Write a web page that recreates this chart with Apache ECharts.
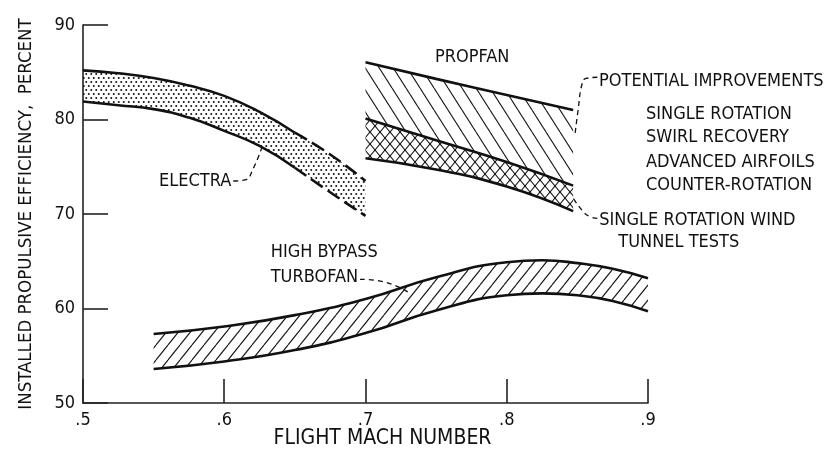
<!DOCTYPE html>
<html><head><meta charset="utf-8">
<script src="https://cdn.jsdelivr.net/npm/echarts@6/dist/echarts.min.js"></script>
<style>html,body{margin:0;padding:0;background:#fff}#c{width:836px;height:465px}</style>
</head><body><div id="c"></div>
<script>
// ---------- data ----------
const machTicks = [0.5, 0.6, 0.7, 0.8, 0.9];
const effTicks = [50, 60, 70, 80, 90];

const electraMach  = [0.5, 0.525, 0.55, 0.575, 0.6, 0.625, 0.65, 0.675, 0.7];
const electraUpper = [85.2, 84.9, 84.4, 83.6, 82.5, 80.8, 78.6, 76.3, 73.5];
const electraLower = [81.9, 81.5, 81.1, 80.2, 78.8, 77.2, 74.9, 72.3, 69.8];
const electraDashFrom = 0.65;

const propfanMach   = [0.7, 0.75, 0.8, 0.847];
const propfanUpper  = [86.05, 84.3, 82.6, 81.0];
const propfanMiddle = [80.1, 77.8, 75.5, 73.0];
const propfanLower  = [75.9, 74.7, 72.9, 70.3];

const turbofanMach  = [0.55, 0.6, 0.65, 0.7, 0.75, 0.8, 0.825, 0.85, 0.875, 0.9];
const turbofanUpper = [57.3, 58.1, 59.3, 61.0, 63.3, 64.9, 65.1, 64.8, 64.2, 63.2];
const turbofanLower = [53.6, 54.4, 55.6, 57.4, 59.8, 61.4, 61.6, 61.4, 60.8, 59.7];

const noteTexts = ['ELECTRA', 'PROPFAN', 'POTENTIAL IMPROVEMENTS', 'SINGLE ROTATION',
  'SWIRL RECOVERY', 'ADVANCED AIRFOILS', 'COUNTER-ROTATION', 'SINGLE ROTATION WIND',
  'TUNNEL TESTS', 'HIGH BYPASS', 'TURBOFAN'];
const noteMach = [0.5538, 0.7492, 0.8653, 0.8986, 0.8986, 0.8986, 0.8986, 0.8655, 0.879, 0.6329, 0.6329];
const noteEff  = [73.5, 86.56, 84.05, 80.56, 78.1, 75.52, 73.02, 69.37, 66.98, 65.93, 63.28];

const electraLeader   = [[0.6064, 73.49], [0.6147, 73.6], [0.6206, 74.84], [0.6272, 77.3]];
const potentialLeader = [[0.8641, 84.47], [0.8561, 84.34], [0.8533, 83.76], [0.8505, 81.0], [0.8483, 78.36]];
const windLeader      = [[0.8641, 69.54], [0.8589, 69.72], [0.8542, 70.24], [0.8471, 71.66]];
const turbofanLeader  = [[0.6961, 63.09], [0.7126, 62.84], [0.7315, 61.61]];

// ---------- styles ----------
const FONT = "'DejaVu Sans Condensed', 'Liberation Sans Narrow', 'DejaVu Sans', sans-serif";
const INK = '#111';
const EDGE = 2.6;

function hatchTile(w, h, dirs, lw) {
  const c = document.createElement('canvas');
  c.width = w; c.height = h;
  const g = c.getContext('2d');
  g.strokeStyle = INK; g.lineWidth = lw;
  dirs.forEach(d => {
    for (let k = -1; k <= 1; k++) {
      g.beginPath();
      if (d > 0) { g.moveTo(k * w, h); g.lineTo(k * w + w, 0); }
      else { g.moveTo(k * w, 0); g.lineTo(k * w + w, h); }
      g.stroke();
    }
  });
  return { image: c, repeat: 'repeat' };
}
function dotTile() {
  const c = document.createElement('canvas');
  c.width = 5; c.height = 8;
  const g = c.getContext('2d');
  g.fillStyle = INK;
  [[1.25, 2], [3.75, 6]].forEach(p => { g.beginPath(); g.arc(p[0], p[1], 1.0, 0, Math.PI * 2); g.fill(); });
  return { image: c, repeat: 'repeat' };
}

const zip = (xs, ys) => xs.map((x, i) => [x, ys[i]]);
// value first, mach second, so the stack runs along the efficiency axis
const zipYX = (xs, ys) => xs.map((x, i) => [ys[i], x]);
const diffYX = (xs, a, b) => xs.map((x, i) => [+(a[i] - b[i]).toFixed(3), x]);
const ENC = { x: 1, y: 0 };

function bandBase(name, xs, ys, stack, lw) {
  return { name, type: 'line', stack, encode: ENC, data: zipYX(xs, ys), smooth: true, symbol: 'none', silent: true,
    lineStyle: { width: lw, color: INK }, z: 3 };
}
function bandFill(name, xs, top, bottom, stack, pattern, lw) {
  return { name, type: 'line', stack, encode: ENC, data: diffYX(xs, top, bottom), smooth: true, symbol: 'none', silent: true,
    lineStyle: { width: lw, color: INK }, areaStyle: { color: pattern, opacity: 1 }, z: 2 };
}
function edge(name, pts, dash, w) {
  return { name, type: 'line', data: pts, smooth: true, symbol: 'none', silent: true,
    lineStyle: { width: w, color: INK, type: dash || 'solid', cap: 'butt' }, z: 4 };
}

const eUpper = zip(electraMach, electraUpper), eLower = zip(electraMach, electraLower);
const solidPart = pts => pts.filter(p => p[0] <= electraDashFrom + 1e-9);
const dashPart = pts => pts.filter(p => p[0] >= electraDashFrom - 1e-9);
const LEAD = [5, 4];

const series = [
  bandBase('electraBase', electraMach, electraLower, 'electra', 0),
  bandFill('electraBand', electraMach, electraUpper, electraLower, 'electra', dotTile(), 0),
  edge('electraUpperSolid', solidPart(eUpper), null, EDGE),
  edge('electraUpperDash', dashPart(eUpper), [14, 6], EDGE),
  edge('electraLowerSolid', solidPart(eLower), null, EDGE),
  edge('electraLowerDash', dashPart(eLower), [14, 6], EDGE),

  bandBase('propfanLower', propfanMach, propfanLower, 'propfan', EDGE),
  bandFill('propfanTested', propfanMach, propfanMiddle, propfanLower, 'propfan', hatchTile(10, 12, [1, -1], 1.1), EDGE),
  bandFill('propfanPotential', propfanMach, propfanUpper, propfanMiddle, 'propfan', hatchTile(14, 22, [-1], 1.1), EDGE),

  bandBase('turbofanLower', turbofanMach, turbofanLower, 'turbofan', EDGE),
  bandFill('turbofanBand', turbofanMach, turbofanUpper, turbofanLower, 'turbofan', hatchTile(12, 15, [1], 1.1), EDGE),

  edge('electraLeader', electraLeader, LEAD, 1.3),
  edge('potentialLeader', potentialLeader, LEAD, 1.3),
  edge('windLeader', windLeader, LEAD, 1.3),
  edge('turbofanLeader', turbofanLeader, LEAD, 1.3),

  { name: 'notes', type: 'scatter', symbolSize: 0, silent: true, z: 10,
    itemStyle: { opacity: 1 },
    data: noteTexts.map((t, i) => ({ value: [noteMach[i], noteEff[i]], name: t })),
    label: { show: true, position: 'right', distance: 0, formatter: p => p.name, opacity: 1,
      fontFamily: FONT, fontSize: 18, color: INK } }
];

const chart = echarts.init(document.getElementById('c'), null, { renderer: 'canvas' });
chart.setOption({
  animation: false,
  backgroundColor: '#fff',
  grid: { left: 83, right: 188, top: 25, bottom: 62, containLabel: false },
  xAxis: {
    type: 'value', min: machTicks[0], max: machTicks[machTicks.length - 1], interval: 0.1,
    name: 'FLIGHT MACH NUMBER', nameLocation: 'middle', nameGap: 25, nameMoveOverlap: false,
    nameTextStyle: { fontFamily: FONT, fontSize: 21, color: INK, padding: [0, 0, 0, 34] },
    axisLine: { lineStyle: { color: '#222', width: 1.6 } },
    axisTick: { inside: true, length: 24, lineStyle: { color: '#222', width: 1.6 } },
    axisLabel: { margin: 8, fontFamily: FONT, fontSize: 18, color: INK,
      formatter: v => '.' + Math.round(v * 10) },
    splitLine: { show: false }
  },
  yAxis: {
    type: 'value', min: effTicks[0], max: effTicks[effTicks.length - 1], interval: 10,
    name: 'INSTALLED PROPULSIVE EFFICIENCY,  PERCENT', nameLocation: 'middle', nameGap: 47, nameRotate: 90,
    nameTextStyle: { fontFamily: FONT, fontSize: 18.5, color: INK },
    axisLine: { lineStyle: { color: '#222', width: 1.6 } },
    axisTick: { inside: true, length: 25, lineStyle: { color: '#222', width: 1.6 } },
    axisLabel: { margin: 8, fontFamily: FONT, fontSize: 18, color: INK, padding: [7, 0, 0, 0] },
    splitLine: { show: false }
  },
  series
});
</script></body></html>
